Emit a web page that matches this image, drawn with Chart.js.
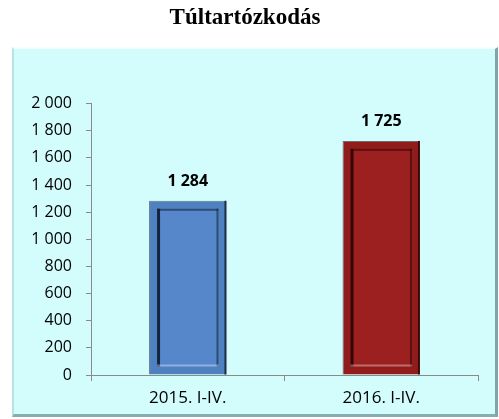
<!DOCTYPE html>
<html>
<head>
<meta charset="utf-8">
<script src="https://cdn.jsdelivr.net/npm/chart.js@4"></script>
<style>
  body { margin: 0; background: #ffffff; }
  #wrap { position: relative; width: 499px; height: 419px; }
  #frame {
    position: absolute; left: 12px; top: 47px; width: 481px; height: 365px;
    background: #d3fcfd;
    border-top: 2px solid #f4ffff;
    border-left: 2px solid #b6e3e5;
    border-right: 3px solid #7ea6a8;
    border-bottom: 3px solid #86aeb0;
  }
  canvas { position: absolute; left: 0; top: 0; }
</style>
</head>
<body>
<div id="wrap">
  <div id="frame"></div>
  <canvas id="chart" width="499" height="419"></canvas>
</div>
<script>
const chartTitle = 'Túltartózkodás'
const categories = ['2015. I-IV.', '2016. I-IV.']
const values = [1284, 1725]
const yTicks = { min: 0, max: 2000, step: 200 }
const outerColors = ['#4f80c0', '#901c1c']
const innerColors = ['#5787cb', '#9c2020']
const darkColors = ['#14253b', '#360606']

function fmt(v){
    return v.toString().replace(/\B(?=(\d{3})+(?!\d))/g, ' ')
}

// inner bevel of each bar + value label above it
const bevelPlugin = {
    id: 'bevel',
    afterDatasetsDraw(chart){
        const ctx = chart.ctx
        const meta = chart.getDatasetMeta(0)
        meta.data.forEach((bar, i) => {
            const left = bar.x - bar.width / 2
            const right = bar.x + bar.width / 2
            const top = bar.y
            const bottom = bar.base
            const ins = 8
            ctx.save()
            ctx.fillStyle = innerColors[i]
            ctx.fillRect(left + ins, top + ins, right - left - 2 * ins, bottom - top - 2 * ins)
            // dark left / top inner edge
            ctx.fillStyle = darkColors[i]
            ctx.fillRect(left + ins, top + ins, 3, bottom - top - 2 * ins)
            ctx.globalAlpha = 0.6
            ctx.fillRect(left + ins, top + ins, right - left - 2 * ins, 2)
            // right inner edge + outer right edge
            ctx.fillRect(right - ins - 2, top + ins, 2, bottom - top - 2 * ins)
            ctx.globalAlpha = 0.9
            ctx.fillRect(right - 2, top, 2, bottom - top)
            // light bottom inner edge
            ctx.globalAlpha = 0.35
            ctx.fillStyle = '#ffffff'
            ctx.fillRect(left + ins, bottom - ins - 2, right - left - 2 * ins, 2)
            ctx.restore()

            ctx.save()
            ctx.fillStyle = '#000000'
            ctx.font = 'bold 16px "Open Sans"'
            ctx.textAlign = 'center'
            ctx.textBaseline = 'middle'
            ctx.fillText(fmt(values[i]), bar.x, top - 19)
            ctx.restore()
        })
    }
}

const data = {
    labels: categories,
    datasets: [{
        data: values,
        backgroundColor: outerColors,
        borderColor: darkColors.map(c => c + '99'),
        borderWidth: 1,
        barPercentage: 0.8,
        categoryPercentage: 0.5
    }]
}

const config = {
    type: 'bar',
    data: data,
    plugins: [bevelPlugin],
    options: {
        responsive: false,
        animation: false,
        layout: { padding: { left: 12, right: 21, top: 0, bottom: 0 } },
        plugins: {
            legend: { display: false },
            tooltip: { enabled: false },
            title: {
                display: true,
                text: chartTitle,
                color: '#000000',
                font: { family: '"Liberation Serif"', size: 23, weight: 'bold' },
                padding: { top: 4, bottom: 72 }
            }
        },
        scales: {
            x: {
                grid: { drawOnChartArea: false, drawTicks: true, tickLength: 6, color: '#8a8a8a', offset: true },
                border: { color: '#8a8a8a' },
                ticks: { color: '#000000', padding: 7, font: { family: '"Open Sans"', size: 17 } },
                afterFit(scale){ scale.height = 44 }
            },
            y: {
                min: yTicks.min,
                max: yTicks.max,
                grid: { drawOnChartArea: false, drawTicks: true, tickLength: 5, color: '#8a8a8a' },
                border: { color: '#8a8a8a' },
                ticks: {
                    stepSize: yTicks.step,
                    color: '#000000',
                    padding: 14,
                    font: { family: '"Open Sans"', size: 16 },
                    callback: v => fmt(v)
                },
                afterFit(scale){ scale.width = 79 }
            }
        }
    }
}

let ctx = document.getElementById('chart').getContext('2d')
new Chart(ctx, config)
</script>
</body>
</html>
